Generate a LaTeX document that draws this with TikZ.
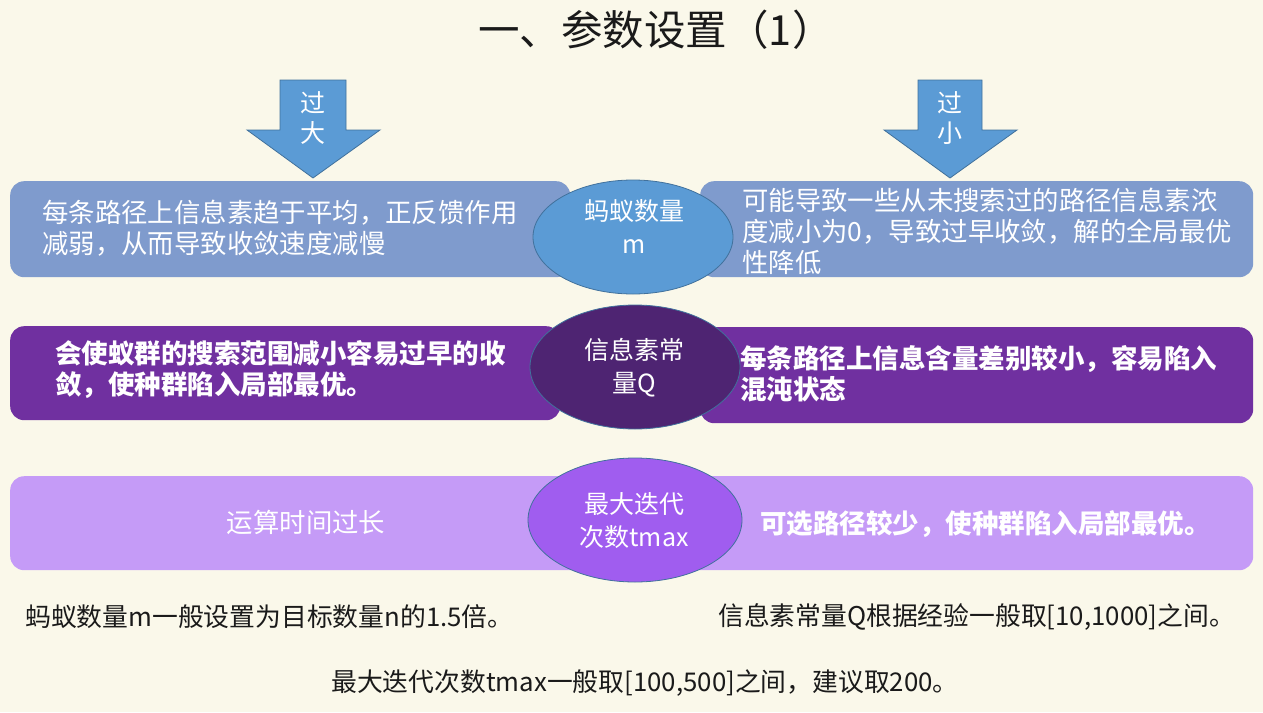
\documentclass[tikz,border=0pt]{standalone}
\usepackage{fontspec}
\setmainfont{Noto Sans CJK SC}
\usetikzlibrary{shapes.geometric}
\definecolor{bgc}{HTML}{FAF8EA}
\definecolor{arrowc}{HTML}{5B9BD5}
\definecolor{edgec}{HTML}{41719C}
\definecolor{rowA}{HTML}{7F9BCD}
\definecolor{rowB}{HTML}{7030A0}
\definecolor{ellB}{HTML}{4E2472}
\definecolor{rowC}{HTML}{C59BF7}
\definecolor{ellC}{HTML}{A05DEF}
\definecolor{ink}{HTML}{1A1A1A}
\begin{document}
\begin{tikzpicture}[x=1pt,y=-1pt,
  panel/.style={rounded corners=14pt, inner sep=0pt, anchor=north west},
  oval/.style={ellipse, draw=edgec, line width=0.8pt, inner sep=0pt},
  wtxt/.style={text=white, align=left, inner sep=0pt, font=\fontsize{26.4}{31}\selectfont},
  btxt/.style={text=white, align=left, inner sep=0pt, font=\fontsize{26.5}{31}\selectfont\bfseries},
  otxt/.style={text=white, align=center, inner sep=0pt, font=\fontsize{25}{33}\selectfont},
  note/.style={text=ink, inner sep=0pt, font=\fontsize{25.8}{28}\selectfont},
  arr/.style={fill=arrowc, draw=edgec, line width=0.8pt}
]
\fill[bgc] (0,0) rectangle (1263,712);
\useasboundingbox (0,0) rectangle (1263,712);

% title
\node[inner sep=0pt, text=ink, font=\fontsize{41.5}{44}\selectfont] (title) at (656,30) {一、参数设置（1）};

% arrows
\draw[arr] (280,80) -- (346,80) -- (346,130) -- (380,130) -- (313,178) -- (247,130) -- (280,130) -- cycle;
\node[otxt] (aL1) at (313,103) {过};
\node[otxt] (aL2) at (313,133) {大};
\draw[arr] (918,80) -- (982,80) -- (982,130) -- (1017,130) -- (950,178) -- (884,130) -- (918,130) -- cycle;
\node[otxt] (aR1) at (950,103) {过};
\node[otxt] (aR2) at (950,133) {小};

% row 1
\node[panel, fill=rowA, minimum width=560pt, minimum height=96pt] (b1l) at (10,181) {};
\node[panel, fill=rowA, minimum width=553pt, minimum height=96pt] (b1r) at (700,181) {};
\node[oval, fill=arrowc, minimum width=200pt, minimum height=114pt] (e1) at (633,237) {};
\node[otxt] (e1t) at (634,226) {蚂蚁数量\\m};
\node[wtxt, anchor=west] (t1l) at (42,228.5) {每条路径上信息素趋于平均，正反馈作用\\减弱，从而导致收敛速度减慢};
\node[wtxt, anchor=west] (t1r) at (742,231) {可能导致一些从未搜索过的路径信息素浓\\度减小为0，导致过早收敛，解的全局最优\\性降低};

% row 2
\node[panel, fill=rowB, minimum width=550pt, minimum height=94pt] (b2l) at (10,326) {};
\node[panel, fill=rowB, minimum width=553pt, minimum height=96pt] (b2r) at (700,327) {};
\node[oval, fill=ellB, minimum width=210pt, minimum height=124pt] (e2) at (635,367) {};
\node[otxt] (e2t) at (634,368) {信息素常\\量Q};
\node[btxt, anchor=west] (t2l) at (55,369.5) {会使蚁群的搜索范围减小容易过早的收\\敛，使种群陷入局部最优。};
\node[btxt, anchor=west] (t2r) at (740,373.5) {每条路径上信息含量差别较小，容易陷入\\混沌状态};

% row 3
\node[panel, fill=rowC, minimum width=1243pt, minimum height=94pt] (b3) at (10,476) {};
\node[oval, fill=ellC, minimum width=214pt, minimum height=124pt] (e3) at (635,520) {};
\node[otxt] (e3t) at (634,521) {最大迭代\\次数tmax};
\node[wtxt, anchor=center] (t3l) at (306,522) {运算时间过长};
\node[btxt, anchor=west] (t3r) at (760,524) {可选路径较少，使种群陷入局部最优。};

% notes
\node[note, anchor=west] (n1) at (25,617) {蚂蚁数量m一般设置为目标数量n的1.5倍。};
\node[note, anchor=west] (n2) at (718,617) {信息素常量Q根据经验一般取[10,1000]之间。};
\node[note] (n3) at (645,683) {最大迭代次数tmax一般取[100,500]之间，建议取200。};
\end{tikzpicture}
\end{document}
